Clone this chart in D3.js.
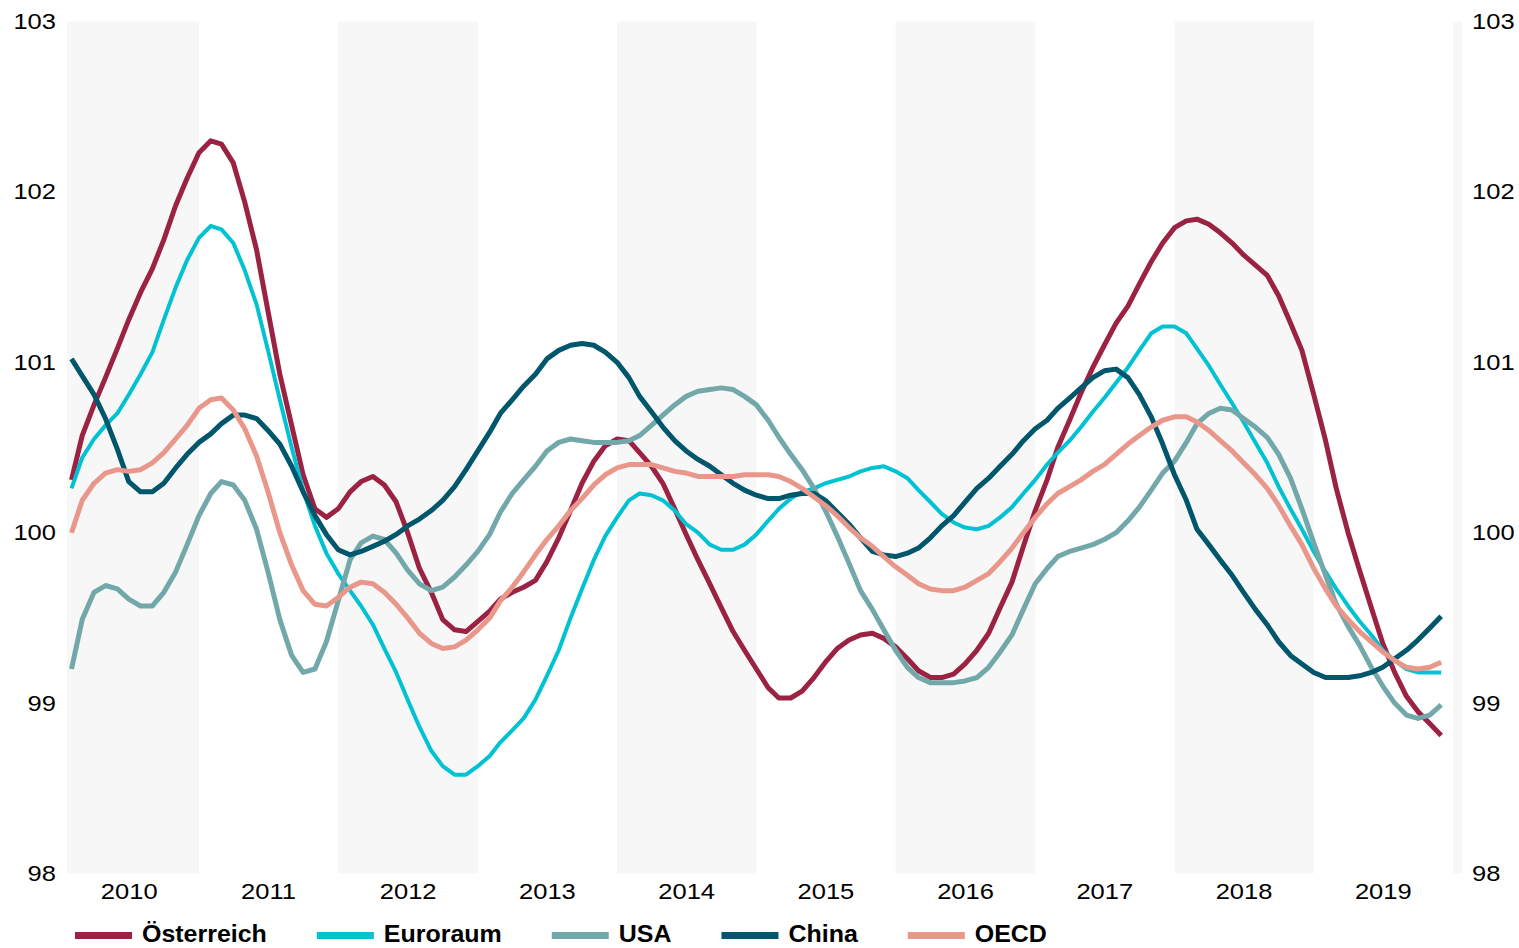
<!DOCTYPE html>
<html>
<head>
<meta charset="utf-8">
<script src="https://cdn.jsdelivr.net/npm/d3@7"></script>
<style>
  body { margin: 0; background: #ffffff; }
  svg { display: block; }
  text { font-family: "Liberation Sans", Arial, Helvetica, sans-serif; fill: #000; }
</style>
</head>
<body>
<svg id="chart" width="1519" height="948"></svg>
<script>
// ---------------- data ----------------
const seriesNames = ["Österreich", "Euroraum", "USA", "China", "OECD"];
const seriesColors = ["#9b2242", "#00c2d2", "#72a8aa", "#00566a", "#e9978b"];
const yTickValues = [98, 99, 100, 101, 102, 103];
const yearLabels = [2010, 2011, 2012, 2013, 2014, 2015, 2016, 2017, 2018, 2019];
const shadedYears = [2010, 2012, 2014, 2016, 2018, 2020];
// monthly observations Feb 2010 .. Dec 2019
const firstMonth = new Date(2010, 1, 1);
const endMonth = new Date(2020, 0, 1);

const oesterreich = [
  100.31,100.57,100.75,100.91,101.08,101.25,101.41,101.55,101.72,101.92,102.08,102.23,102.30,102.28,102.17,101.94,101.66,101.30,100.93,100.63,100.34,100.14,100.09,100.14,100.24,
  100.30,100.33,100.28,100.18,100.00,99.79,99.65,99.49,99.43,99.42,99.48,99.54,99.61,99.65,99.68,99.72,99.83,99.97,100.13,100.29,100.42,100.51,100.55,
  100.54,100.47,100.39,100.29,100.14,99.99,99.84,99.70,99.56,99.42,99.31,99.20,99.09,99.03,99.03,99.07,99.15,99.24,99.32,99.37,99.40,99.41,99.38,99.33,
  99.26,99.19,99.15,99.15,99.17,99.23,99.31,99.41,99.56,99.71,99.92,100.13,100.31,100.50,100.66,100.82,100.97,101.10,101.23,101.33,101.46,101.59,101.70,
  101.79,101.83,101.84,101.81,101.76,101.70,101.63,101.57,101.51,101.39,101.23,101.07,100.81,100.54,100.26,100.00,99.78,99.56,99.35,99.18,99.04,98.95,98.88,98.81
];
const euroraum = [
  100.26,100.44,100.55,100.63,100.70,100.81,100.93,101.06,101.25,101.44,101.60,101.73,101.80,101.78,101.70,101.54,101.34,101.07,100.78,100.50,100.25,100.04,99.88,99.76,99.66,
  99.57,99.46,99.32,99.18,99.02,98.86,98.72,98.63,98.58,98.58,98.63,98.69,98.77,98.84,98.91,99.02,99.16,99.31,99.50,99.67,99.84,99.98,100.09,
  100.19,100.23,100.22,100.19,100.13,100.05,100.00,99.93,99.90,99.90,99.93,99.99,100.07,100.14,100.20,100.24,100.26,100.29,100.31,100.33,100.36,100.38,100.39,100.36,
  100.32,100.25,100.18,100.11,100.06,100.03,100.02,100.04,100.09,100.15,100.23,100.31,100.40,100.47,100.54,100.62,100.71,100.79,100.88,100.97,101.07,101.17,101.21,
  101.21,101.17,101.08,100.98,100.87,100.76,100.65,100.53,100.41,100.27,100.14,100.02,99.89,99.77,99.67,99.57,99.48,99.40,99.31,99.25,99.20,99.18,99.18,99.18
];
const usa = [
  99.20,99.49,99.65,99.69,99.67,99.61,99.57,99.57,99.65,99.77,99.93,100.10,100.23,100.30,100.28,100.19,100.02,99.77,99.49,99.28,99.18,99.20,99.36,99.60,99.84,
  99.94,99.98,99.96,99.88,99.78,99.70,99.66,99.68,99.74,99.81,99.89,99.99,100.12,100.23,100.31,100.39,100.48,100.53,100.55,100.54,100.53,100.53,100.53,
  100.54,100.57,100.63,100.69,100.75,100.80,100.83,100.84,100.85,100.84,100.80,100.75,100.66,100.56,100.46,100.37,100.26,100.13,99.98,99.82,99.66,99.55,99.43,99.31,
  99.21,99.15,99.12,99.12,99.12,99.13,99.15,99.21,99.30,99.40,99.55,99.70,99.79,99.86,99.89,99.91,99.93,99.96,100.00,100.07,100.15,100.25,100.35,
  100.42,100.53,100.64,100.70,100.73,100.72,100.67,100.62,100.56,100.46,100.32,100.14,99.94,99.75,99.58,99.45,99.34,99.21,99.10,99.00,98.93,98.91,98.93,98.99
];
const china = [
  101.02,100.92,100.81,100.67,100.49,100.30,100.24,100.24,100.29,100.38,100.46,100.53,100.58,100.64,100.69,100.69,100.67,100.60,100.52,100.39,100.24,100.10,99.99,99.90,99.87,
  99.89,99.92,99.95,99.99,100.04,100.08,100.13,100.19,100.27,100.37,100.48,100.59,100.70,100.78,100.86,100.93,101.02,101.07,101.10,101.11,101.10,101.06,101.00,
  100.91,100.80,100.71,100.62,100.54,100.48,100.43,100.39,100.34,100.29,100.25,100.22,100.20,100.20,100.22,100.23,100.23,100.19,100.12,100.05,99.97,99.89,99.87,99.86,
  99.88,99.91,99.97,100.04,100.10,100.18,100.26,100.32,100.39,100.46,100.54,100.61,100.66,100.73,100.79,100.85,100.91,100.95,100.96,100.91,100.81,100.68,100.52,
  100.34,100.19,100.02,99.93,99.84,99.75,99.65,99.55,99.46,99.36,99.28,99.23,99.18,99.15,99.15,99.15,99.16,99.18,99.21,99.26,99.31,99.37,99.44,99.51
];
const oecd = [
  100.00,100.19,100.29,100.35,100.37,100.36,100.37,100.41,100.47,100.55,100.63,100.73,100.78,100.79,100.72,100.61,100.45,100.24,100.00,99.81,99.66,99.58,99.57,99.62,99.68,
  99.71,99.70,99.65,99.58,99.50,99.41,99.35,99.32,99.33,99.37,99.43,99.50,99.60,99.68,99.77,99.87,99.96,100.04,100.13,100.20,100.28,100.34,100.38,
  100.40,100.40,100.40,100.38,100.36,100.35,100.33,100.33,100.33,100.33,100.34,100.34,100.34,100.33,100.30,100.26,100.21,100.16,100.10,100.03,99.97,99.92,99.86,99.80,
  99.75,99.70,99.67,99.66,99.66,99.68,99.72,99.76,99.83,99.91,100.00,100.09,100.17,100.23,100.27,100.31,100.36,100.40,100.46,100.52,100.57,100.62,100.66,
  100.68,100.68,100.65,100.60,100.54,100.48,100.41,100.34,100.26,100.16,100.04,99.93,99.79,99.67,99.57,99.49,99.42,99.36,99.30,99.25,99.21,99.20,99.21,99.24
];
const seriesValues = [oesterreich, euroraum, usa, china, oecd];
const seriesWidths = [5, 4, 5, 5, 5];

// ---------------- layout ----------------
const plotL = 67, plotR = 1462, plotT = 21.5, plotB = 873.5;
const months = d3.timeMonth.range(firstMonth, endMonth);

const svg = d3.select("#chart");
const x = d3.scaleTime()
  .domain([new Date(2010, 0, 1), new Date(2020, 0, 1)])
  .range([59.7, 1453]);
const y = d3.scaleLinear().domain([98, 103]).range([plotB, plotT]);

// shaded year bands
svg.append("g").selectAll("rect")
  .data(shadedYears)
  .join("rect")
  .attr("x", d => Math.max(plotL, x(new Date(d, 0, 1))))
  .attr("width", d => Math.min(plotR, x(new Date(d + 1, 0, 1))) - Math.max(plotL, x(new Date(d, 0, 1))))
  .attr("y", plotT)
  .attr("height", plotB - plotT)
  .attr("fill", "#f7f7f7");

// stretch helper for tick text
function stretch(sel, f) {
  sel.each(function () {
    const L = this.getComputedTextLength();
    d3.select(this).attr("textLength", L * f).attr("lengthAdjust", "spacingAndGlyphs");
  });
}

// axes
const fmtY = d3.format("d");
const gl = svg.append("g").attr("transform", `translate(${plotL},0)`)
  .call(d3.axisLeft(y).tickValues(yTickValues).tickFormat(fmtY).tickSize(0).tickPadding(11));
const gr = svg.append("g").attr("transform", `translate(${plotR},0)`)
  .call(d3.axisRight(y).tickValues(yTickValues).tickFormat(fmtY).tickSize(0).tickPadding(10));
const gb = svg.append("g").attr("transform", `translate(0,${plotB})`)
  .call(d3.axisBottom(x).tickValues(yearLabels.map(yr => new Date(yr, 6, 1)))
    .tickFormat(d3.timeFormat("%Y")).tickSize(0).tickPadding(10));
[gl, gr, gb].forEach(g => {
  g.select(".domain").remove();
  g.selectAll("text").attr("font-size", 22).attr("font-family", "Liberation Sans, Arial, sans-serif").attr("fill", "#000");
  stretch(g.selectAll("text"), 1.16);
});

// lines
svg.append("clipPath").attr("id", "plotclip")
  .append("rect").attr("x", plotL).attr("y", 0).attr("width", plotR - plotL).attr("height", plotB + 10);
const line = d3.line()
  .x((d, i) => x(months[i]))
  .y(d => y(d))
  .curve(d3.curveLinear);
svg.append("g").attr("clip-path", "url(#plotclip)")
  .selectAll("path")
  .data(seriesValues)
  .join("path")
  .attr("d", d => line(d))
  .attr("fill", "none")
  .attr("stroke", (d, i) => seriesColors[i])
  .attr("stroke-width", (d, i) => seriesWidths[i])
  .attr("stroke-linejoin", "round")
  .attr("stroke-linecap", "butt");

// legend
const lg = svg.append("g");
let lx = 75;
seriesNames.forEach((name, i) => {
  lg.append("line")
    .attr("x1", lx).attr("x2", lx + 57)
    .attr("y1", 935.5).attr("y2", 935.5)
    .attr("stroke", seriesColors[i]).attr("stroke-width", 7);
  const t = lg.append("text")
    .attr("x", lx + 67).attr("y", 942)
    .attr("font-size", 24).attr("font-weight", "bold")
    .text(name);
  const natural = t.node().getComputedTextLength();
  t.attr("textLength", natural * 1.04).attr("lengthAdjust", "spacingAndGlyphs");
  lx = lx + 67 + natural * 1.04 + 50;
});
</script>
</body>
</html>
